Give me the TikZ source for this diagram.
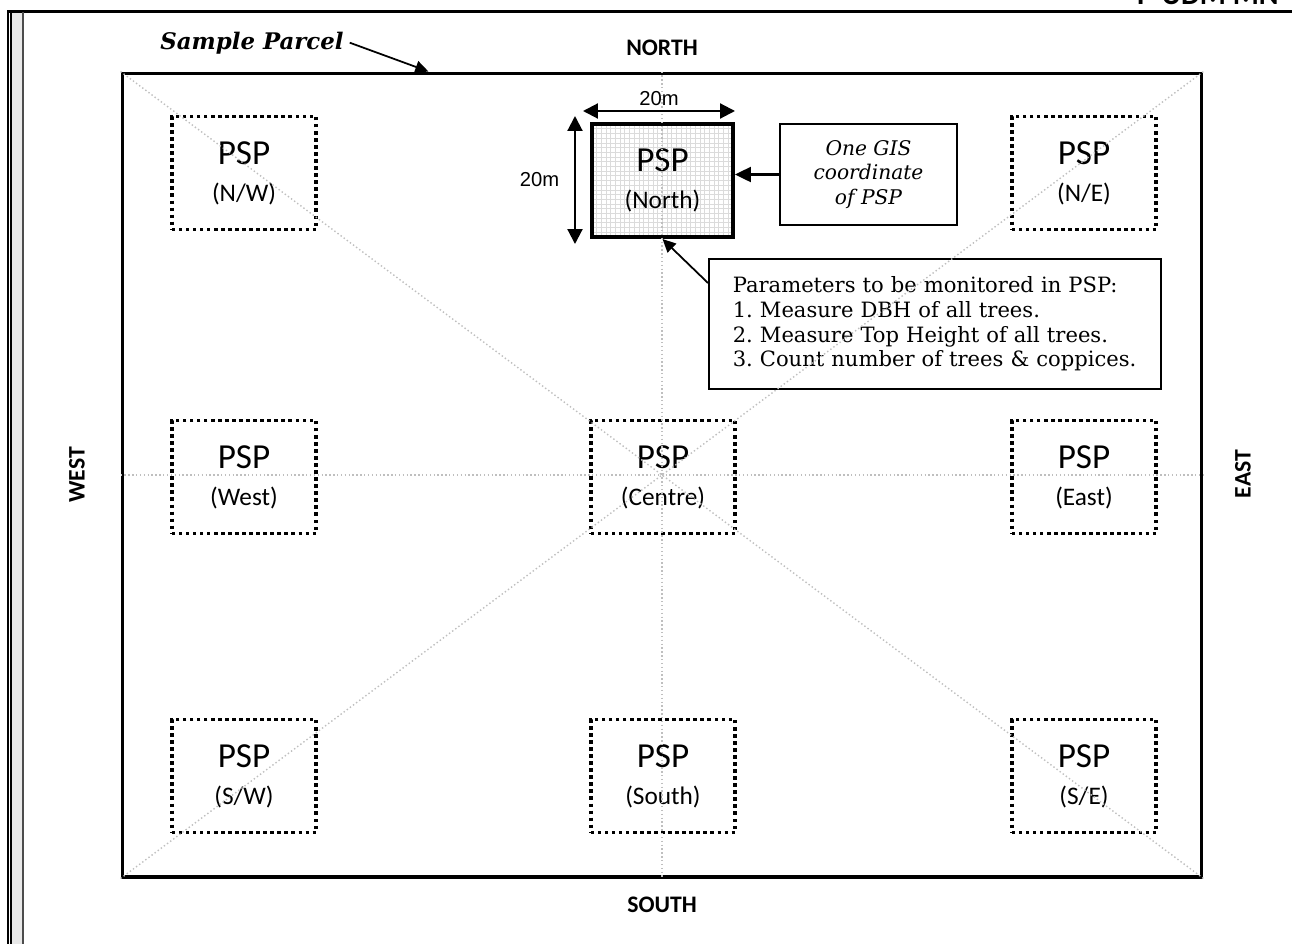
\documentclass[tikz,border=0pt]{standalone}
\usepackage{fontspec}
\setmainfont{DejaVu Serif}
\newfontfamily\calibri{Carlito}
\newfontfamily\arialfont{Liberation Sans}
\usetikzlibrary{arrows.meta, positioning}
\frenchspacing

\begin{document}
\begin{tikzpicture}[
  x=0.02cm, y=-0.02cm,
  every node/.style={align=center},
  parcel/.style={draw, line width=1.8pt, minimum width=21.6cm, minimum height=16.08cm, inner sep=0pt},
  psp/.style={draw, line width=1.9pt, dash pattern=on 1.9pt off 2.1pt, minimum width=2.88cm, minimum height=2.26cm, inner sep=0pt, font=\calibri\fontsize{20}{24}\selectfont},
  mainpsp/.style={psp, solid, line width=2.3pt, minimum width=2.82cm, fill=white,
    path picture={\draw[gray!28, line width=0.3pt, step=0.094cm] (path picture bounding box.south west) grid (path picture bounding box.north east);}},
  compass/.style={font=\calibri\bfseries\fontsize{13.5}{16}\selectfont},
  guide/.style={gray!50, line width=0.8pt, dash pattern=on 0.8pt off 1.4pt},
  infobox/.style={draw, line width=0.9pt, font=\fontsize{12}{14}\selectfont},
  arrow/.style={-{Triangle[length=9pt, width=8.5pt]}, line width=1.2pt},
  pointer/.style={-{Triangle[length=7.5pt, width=7pt]}, line width=1pt},
  dim/.style={{Triangle[length=8.5pt, width=8.5pt]}-{Triangle[length=8.5pt, width=8.5pt]}, line width=1.2pt}
]
\useasboundingbox (0,0) rectangle (1292,944);
\clip (0,0) rectangle (1292,944);

% page frame
\fill[gray!18] (12,12) rectangle (22.5,944);
\draw[line width=0.8pt] (7.8,10.5) -- (7.8,944);
\draw[line width=1.1pt] (11,11.5) -- (11,944);
\draw[line width=1.2pt] (7,11.5) -- (1292,11.5);
\draw[gray!60!black, line width=1.1pt] (23,12) -- (23,944);
\node[font=\calibri\bfseries\fontsize{17}{20}\selectfont, anchor=base west] (header) at (1131,4.5) {P-UDM MN};

% sample parcel
\node[parcel] (parcel) at (662,475) {};
\node[font=\bfseries\itshape\fontsize{13}{16}\selectfont, anchor=base] (sample_lbl) at (252,49) {Sample Parcel};

% compass labels
\node[compass] (north) at (662,48) {NORTH};
\node[compass] (south) at (662,905) {SOUTH};
\node[compass, rotate=90] (west) at (77,475) {WEST};
\node[compass, rotate=90] (east) at (1243,474) {EAST};

% permanent sample plots
\node[psp] (psp_nw) at (244,173) {PSP\\[-3pt]{\Large (N/W)}};
\node[mainpsp] (psp_north) at (662.5,180.5) {PSP\\[-3pt]{\Large (North)}};
\node[psp] (psp_ne) at (1084,173) {PSP\\[-3pt]{\Large (N/E)}};
\node[psp] (psp_w) at (244,477) {PSP\\[-3pt]{\Large (West)}};
\node[psp] (psp_c) at (663,477) {PSP\\[-3pt]{\Large (Centre)}};
\node[psp] (psp_e) at (1084,477) {PSP\\[-3pt]{\Large (East)}};
\node[psp] (psp_sw) at (244,776) {PSP\\[-3pt]{\Large (S/W)}};
\node[psp] (psp_s) at (663,776) {PSP\\[-3pt]{\Large (South)}};
\node[psp] (psp_se) at (1084,776) {PSP\\[-3pt]{\Large (S/E)}};

% notes
\node[infobox, minimum width=3.54cm, minimum height=2.02cm, font=\itshape\fontsize{11.5}{14}\selectfont] (gis) at (868.5,174.5) {One GIS\\coordinate\\of PSP};
\node[infobox, anchor=north west, text width=8.08cm, inner xsep=0.48cm, inner ysep=0.36cm, align=left] (params) at (708,258) {Parameters to be monitored in PSP:\\1. Measure DBH of all trees.\\2. Measure Top Height of all trees.\\3. Count number of trees \& coppices.};

% guide lines
\draw[guide] (parcel.north west) -- (parcel.south east);
\draw[guide] (parcel.south west) -- (parcel.north east);
\draw[guide] (parcel.west) -- (parcel.east);
\draw[guide] (parcel.north) -- (parcel.south);

% size of plot
\draw[dim] ([shift={(-7,-11)}]psp_north.north west) -- ([shift={(0,-11)}]psp_north.north east) node[midway, above=-1pt, font=\arialfont\fontsize{11.5}{13}\selectfont] {20m};
\draw[dim] ([shift={(-15,-6)}]psp_north.north west) -- ([shift={(-15,5)}]psp_north.south west) node[midway, left=5pt, font=\arialfont\fontsize{11.5}{13}\selectfont] {20m};

% arrows
\draw[pointer] (sample_lbl.east) -- ([xshift=6.16cm]parcel.north west);
\draw[arrow] (gis.west) -- (gis.west -| psp_north.east);
\draw[pointer] ([yshift=-0.5cm]params.north west) -- (psp_north.south);

\end{tikzpicture}
\end{document}
